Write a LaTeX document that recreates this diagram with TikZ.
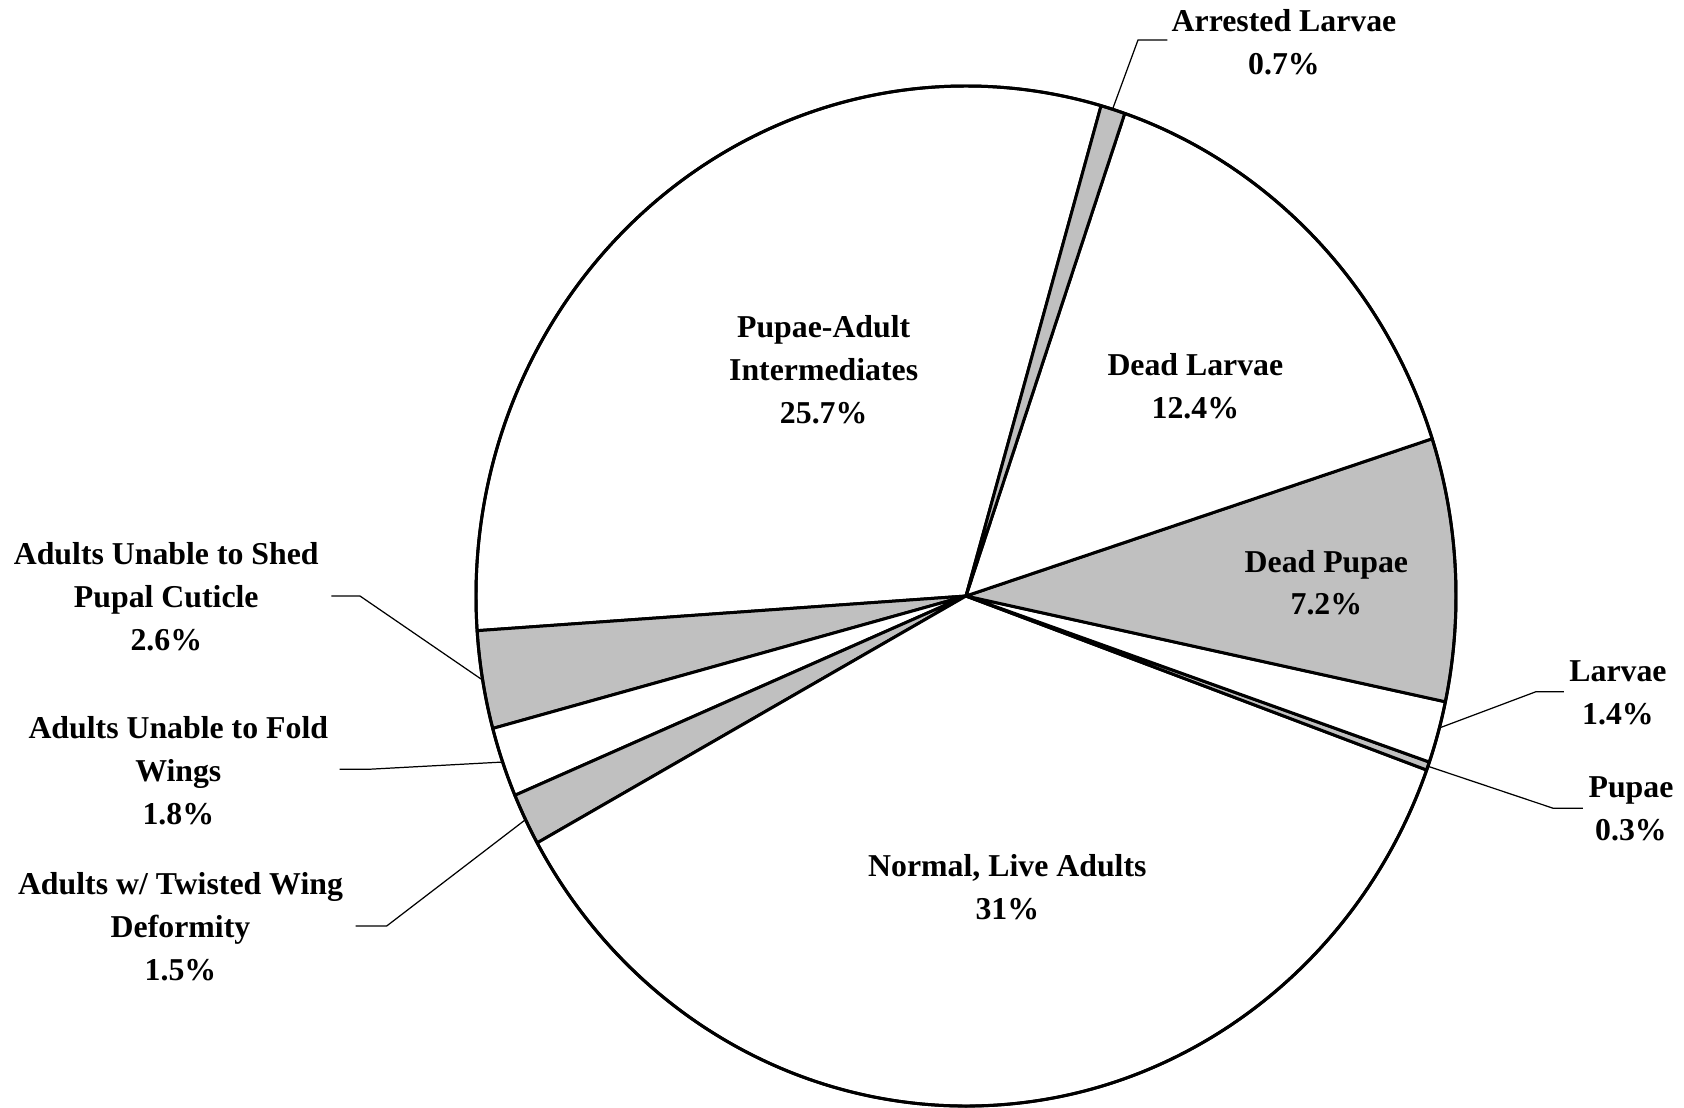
\documentclass[tikz,border=0pt]{standalone}
\usepackage{fontspec}
\setmainfont{Liberation Serif}
\definecolor{slicegray}{RGB}{192,192,192}
\begin{document}
\begin{tikzpicture}[x=0.1mm,y=0.1mm,
    slice/.style={draw=black,line width=0.85pt,line join=round},
    lbl/.style={font=\fontsize{9.05}{12.2}\selectfont\bfseries,align=center,inner sep=0pt},
    leader/.style={draw=black,line width=0.35pt}]
    \def\rx{490}
    \def\ry{510}
    \useasboundingbox (-966,-511) rectangle (718,596);
    % Pie slices: intermediates, shed, fold, twisted, normal,
    % pupae, larvae, dead pupae, dead larvae, arrested larvae
    \foreach \a/\b/\c in {
        74/183.9/white, 183.9/195.05/slicegray, 195.05/203/white,
        203/208.95/slicegray, 208.95/340.05/white, 340.05/341/slicegray,
        341/348.03/white, 348.03/377.96/slicegray, 17.96/71.1/white,
        71.1/74/slicegray} {
        \filldraw[slice,fill=\c] (0,0) -- (\a:{\rx} and {\ry})
            arc[start angle=\a,end angle=\b,x radius=\rx,y radius=\ry] -- cycle;
    }
    \draw[slice] (0,0) ellipse[x radius=\rx,y radius=\ry];
    % Labels inside
    \node[lbl] (interm) at (-142.3,226) {Pupae-Adult\\Intermediates\\25.7\%};
    \node[lbl] (deadlar) at (229.4,210) {Dead Larvae\\12.4\%};
    \node[lbl] (deadpup) at (360.4,13.3) {Dead Pupae\\7.2\%};
    \node[lbl] (normal) at (41.4,-291) {Normal, Live Adults\\31\%};
    % Labels outside
    \node[lbl] (arrested) at (318,553.5) {Arrested Larvae\\0.7\%};
    \node[lbl] (larvae) at (652,-96.5) {Larvae\\1.4\%};
    \node[lbl] (pupae) at (665,-213) {Pupae\\0.3\%};
    \node[lbl] (shed) at (-799.7,-0.7) {Adults Unable to Shed\\Pupal Cuticle\\2.6\%};
    \node[lbl] (fold) at (-787.7,-174.5) {Adults Unable to Fold\\Wings\\1.8\%};
    \node[lbl] (twist) at (-785.5,-330.5) {Adults w/ Twisted Wing\\Deformity\\1.5\%};
    % Leader lines
    \coordinate (arrRim) at (72.6:{\rx} and {\ry});
    \coordinate (arrKnee) at (172,556);
    \coordinate (larRim) at (-15:{\rx} and {\ry});
    \coordinate (larKnee) at (570,-95.7);
    \coordinate (pupRim) at (-19.5:{\rx} and {\ry});
    \coordinate (pupKnee) at (587.3,-212.3);
    \coordinate (shedRim) at (189.5:{\rx} and {\ry});
    \coordinate (shedKnee) at (-606,0);
    \coordinate (foldRim) at (199:{\rx} and {\ry});
    \coordinate (foldKnee) at (-597.7,-173.3);
    \coordinate (twistRim) at (206:{\rx} and {\ry});
    \coordinate (twistKnee) at (-579.3,-330);
    \draw[leader] (arrRim) -- (arrKnee) -- ([xshift=-1pt]arrKnee -| arrested.west);
    \draw[leader] (larRim) -- (larKnee) -- ([xshift=-1.4pt]larKnee -| larvae.west);
    \draw[leader] (pupRim) -- (pupKnee) -- ([xshift=-1.4pt]pupKnee -| pupae.west);
    \draw[leader] (shedRim) -- (shedKnee) -- ([xshift=3.4pt]shedKnee -| shed.east);
    \draw[leader] (foldRim) -- (foldKnee) -- ([xshift=3.1pt]foldKnee -| fold.east);
    \draw[leader] (twistRim) -- (twistKnee) -- ([xshift=3.4pt]twistKnee -| twist.east);
\end{tikzpicture}
\end{document}
